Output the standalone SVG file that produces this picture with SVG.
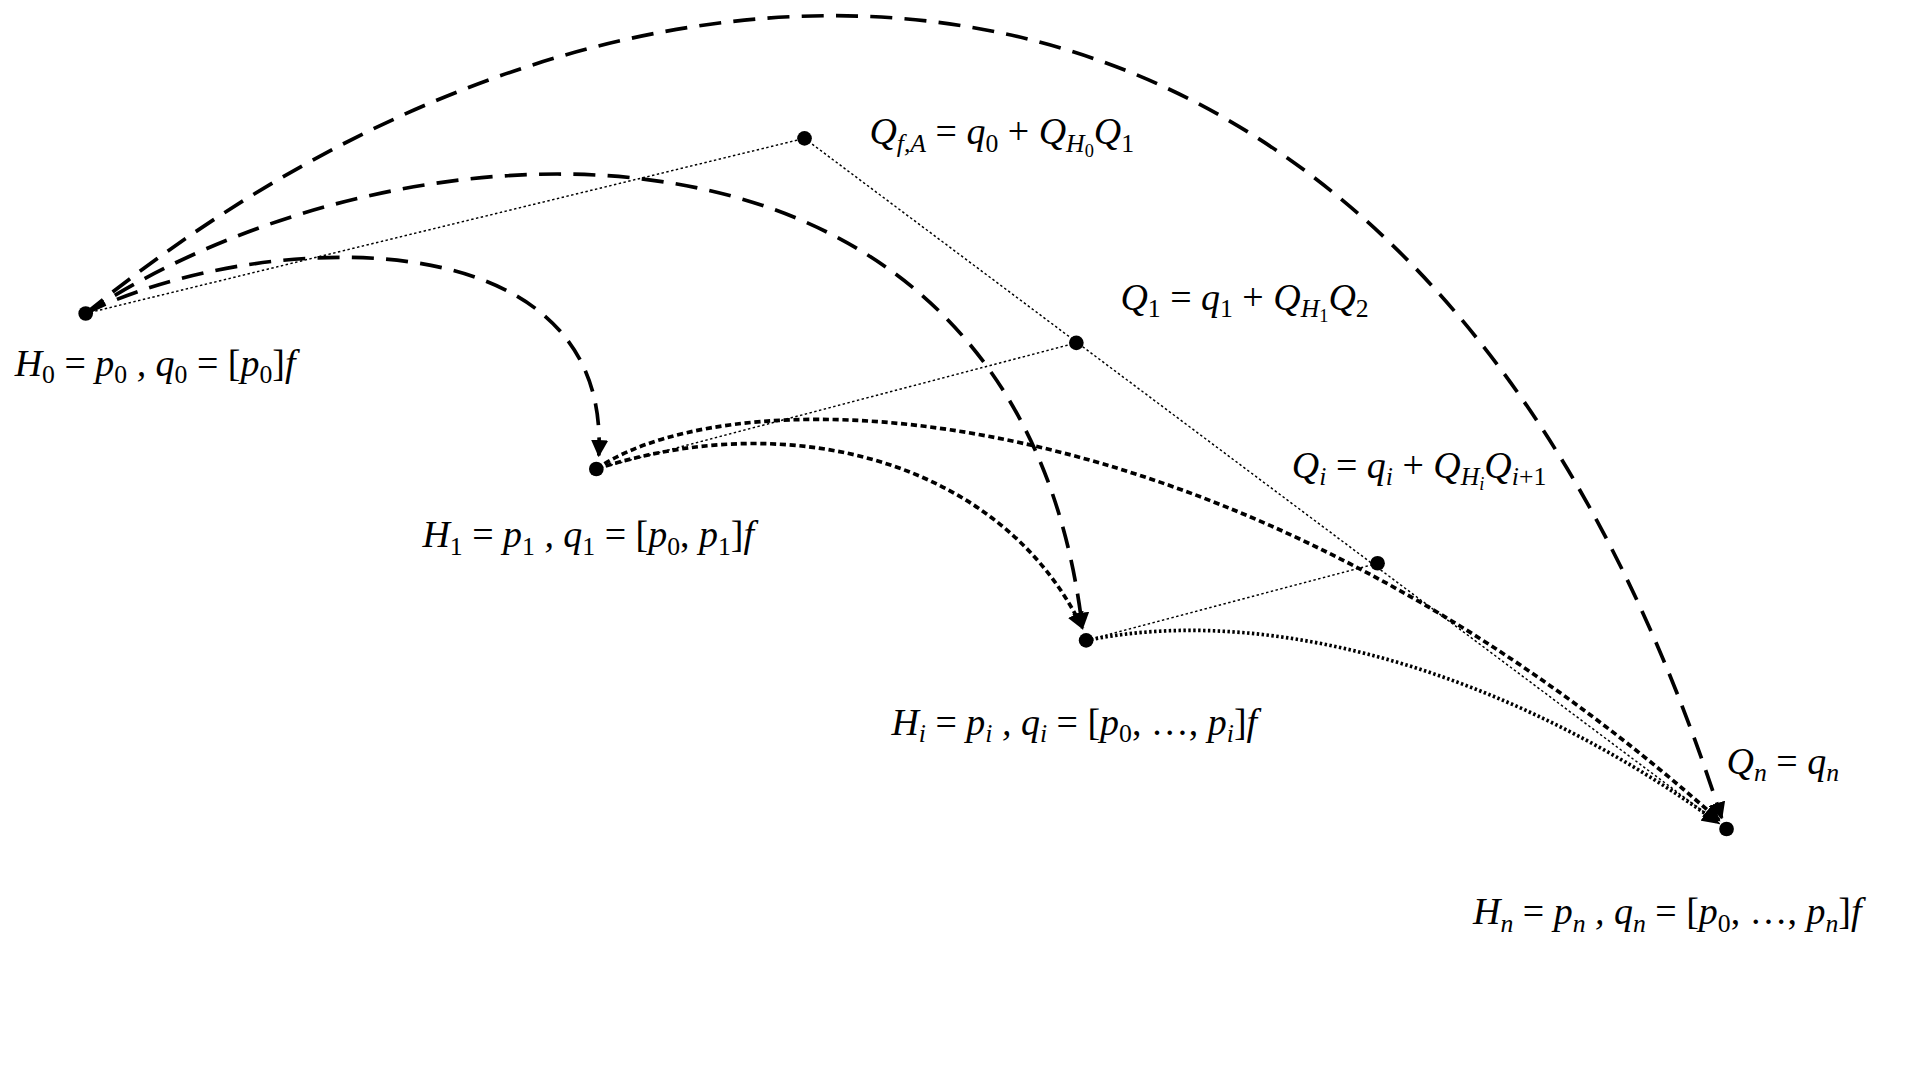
<svg xmlns="http://www.w3.org/2000/svg" width="1920" height="1080" viewBox="0 0 1920 1080">
<style>
text{font-family:"Liberation Serif","Times New Roman",serif;font-size:31px;font-style:italic;fill:#000}
.u{font-style:normal}
.s{font-size:21px}
.c{fill:none;stroke:#000}
.big{stroke-width:3;stroke-dasharray:18 10}
.sd{stroke-width:3;stroke-dasharray:5 3}
.dot{stroke-width:3;stroke-dasharray:2 2}
.thin{stroke-width:1.2;stroke-dasharray:2 2}
</style>
<defs>
<marker id="a" viewBox="0 0 10 10" refX="9" refY="5" markerWidth="14" markerHeight="14" markerUnits="userSpaceOnUse" orient="auto"><path d="M0,0L10,5L0,10z" fill="#000"/></marker>
</defs>
<rect width="1920" height="1080" fill="#fff"/>
<g transform="scale(1.2245)">
<g id="connectors">
<path class="c thin" d="M70,256L657,113L1410,677"/>
<path class="c thin" d="M487,383L879,280"/>
<path class="c thin" d="M887,523L1125,460"/>
<path class="c big" d="M70,256C520,-110 1150,-130 1406,668" marker-end="url(#a)"/>
<path class="c big" d="M70,256C330,85 830,60 884,513" marker-end="url(#a)"/>
<path class="c big" d="M70,256C200,190 500,170 489,372" marker-end="url(#a)"/>
<path class="c sd" d="M487,383C600,305 1000,310 1404,670" marker-end="url(#a)"/>
<path class="c sd" d="M487,383C650,330 820,380 884,513" marker-end="url(#a)"/>
<path class="c dot" d="M887,523C1050,490 1250,560 1403,672" marker-end="url(#a)"/>
</g>
<g id="H0"><circle cx="70" cy="256" r="6"/><text x="12" y="307">H<tspan class="s u" dy="6">0</tspan><tspan class="u" dy="-6"> = </tspan>p<tspan class="s u" dy="6">0</tspan><tspan dy="-6"> , q</tspan><tspan class="s u" dy="6">0</tspan><tspan class="u" dy="-6"> = [</tspan>p<tspan class="s u" dy="6">0</tspan><tspan class="u" dy="-6">]</tspan>f</text></g>
<g id="QfA"><circle cx="657" cy="113" r="6"/><text x="710" y="118">Q<tspan class="s" dy="6">f,A</tspan><tspan class="u" dy="-6"> = </tspan>q<tspan class="s u" dy="6">0</tspan><tspan class="u" dy="-6"> + </tspan>Q<tspan class="s" dy="6">H<tspan class="u" font-size="15" dy="4">0</tspan></tspan><tspan dy="-10">Q</tspan><tspan class="s u" dy="6">1</tspan></text></g>
<g id="Q1"><circle cx="879" cy="280" r="6"/><text x="915" y="253">Q<tspan class="s u" dy="6">1</tspan><tspan class="u" dy="-6"> = </tspan>q<tspan class="s u" dy="6">1</tspan><tspan class="u" dy="-6"> + </tspan>Q<tspan class="s" dy="6">H<tspan class="u" font-size="15" dy="4">1</tspan></tspan><tspan dy="-10">Q</tspan><tspan class="s u" dy="6">2</tspan></text></g>
<g id="H1"><circle cx="487" cy="383" r="6"/><text x="345" y="447">H<tspan class="s u" dy="6">1</tspan><tspan class="u" dy="-6"> = </tspan>p<tspan class="s u" dy="6">1</tspan><tspan dy="-6"> , q</tspan><tspan class="s u" dy="6">1</tspan><tspan class="u" dy="-6"> = [</tspan>p<tspan class="s u" dy="6">0</tspan><tspan class="u" dy="-6">, </tspan>p<tspan class="s u" dy="6">1</tspan><tspan class="u" dy="-6">]</tspan>f</text></g>
<g id="Qi"><circle cx="1125" cy="460" r="6"/><text x="1055" y="390">Q<tspan class="s" dy="6">i</tspan><tspan class="u" dy="-6"> = </tspan>q<tspan class="s" dy="6">i</tspan><tspan class="u" dy="-6"> + </tspan>Q<tspan class="s" dy="6">H<tspan font-size="15" dy="4">i</tspan></tspan><tspan dy="-10">Q</tspan><tspan class="s" dy="6">i<tspan class="u">+1</tspan></tspan></text></g>
<g id="Hi"><circle cx="887" cy="523" r="6"/><text x="728" y="600">H<tspan class="s" dy="6">i</tspan><tspan class="u" dy="-6"> = </tspan>p<tspan class="s" dy="6">i</tspan><tspan dy="-6"> , q</tspan><tspan class="s" dy="6">i</tspan><tspan class="u" dy="-6"> = [</tspan>p<tspan class="s u" dy="6">0</tspan><tspan class="u" dy="-6">, …, </tspan>p<tspan class="s" dy="6">i</tspan><tspan class="u" dy="-6">]</tspan>f</text></g>
<g id="Hn"><circle cx="1410" cy="677" r="6"/><text x="1410" y="632">Q<tspan class="s" dy="6">n</tspan><tspan class="u" dy="-6"> = </tspan>q<tspan class="s" dy="6">n</tspan></text><text x="1203" y="755">H<tspan class="s" dy="6">n</tspan><tspan class="u" dy="-6"> = </tspan>p<tspan class="s" dy="6">n</tspan><tspan dy="-6"> , q</tspan><tspan class="s" dy="6">n</tspan><tspan class="u" dy="-6"> = [</tspan>p<tspan class="s u" dy="6">0</tspan><tspan class="u" dy="-6">, …, </tspan>p<tspan class="s" dy="6">n</tspan><tspan class="u" dy="-6">]</tspan>f</text></g>
</g>
</svg>
